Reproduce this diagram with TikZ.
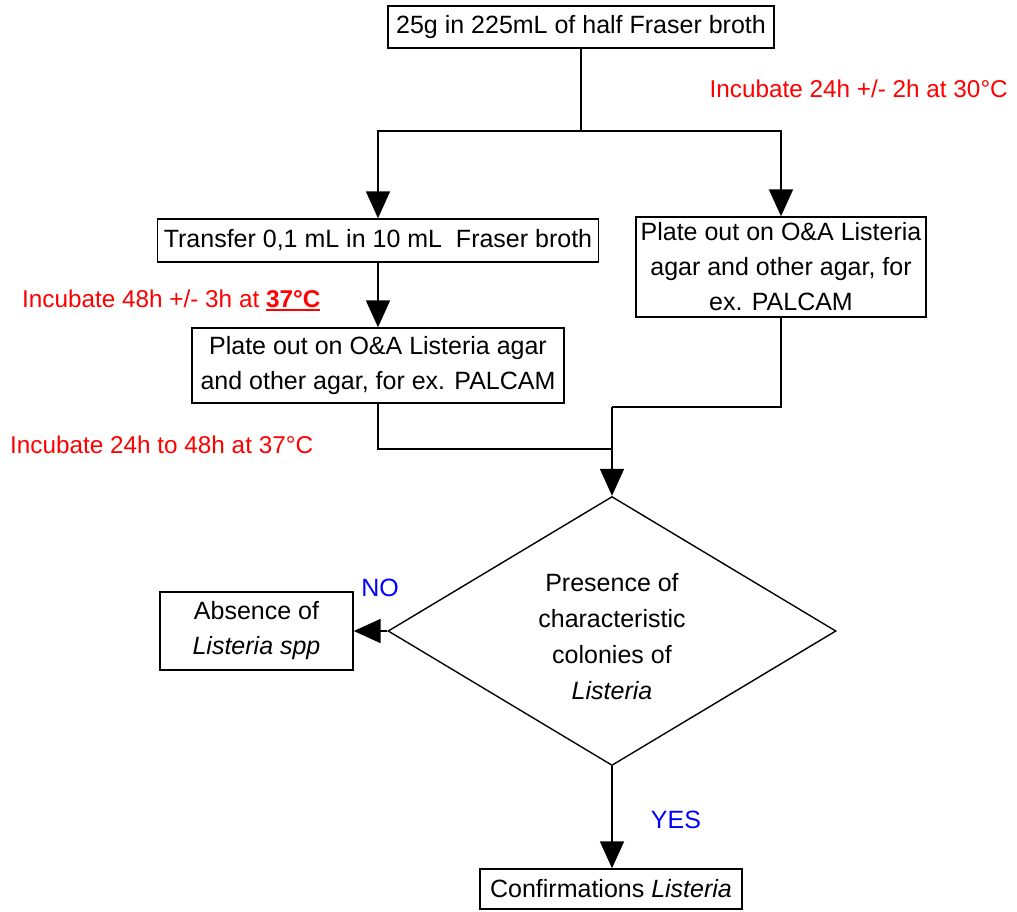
\documentclass[tikz,border=0pt]{standalone}
\usepackage{fontspec}
\setmainfont{Liberation Sans}
\usetikzlibrary{arrows.meta,shapes.geometric}
\definecolor{lblred}{RGB}{255,0,0}
\definecolor{lblblue}{RGB}{0,0,255}
\newcommand\myredul[1]{\setbox0\hbox{#1}\rlap{\color{lblred}\rule[-3.5pt]{\wd0}{1.8pt}}\box0}
\begin{document}
\begin{tikzpicture}[x=1pt,y=-1pt,
  every node/.style={font=\fontsize{25}{35}\selectfont},
  box/.style={draw,line width=1.4pt,inner sep=0pt,align=center},
  arr/.style={line width=1.8pt,-{Triangle[length=27pt,width=24pt]}},
  ln/.style={line width=1.8pt},
  redlbl/.style={text=lblred,inner sep=0pt,font=\fontsize{24.3}{30}\selectfont},
  bluelbl/.style={text=lblblue,inner sep=0pt}]
\useasboundingbox (0,0) rectangle (1017,911);
\node[box,minimum width=386pt,minimum height=42pt] (t) at (581,27) {25g in 225mL of half Fraser broth};
\node[box,minimum width=441pt,minimum height=43pt] (b1) at (378,240.5) {Transfer 0,1 mL in 10 mL\ \ Fraser broth};
\node[box,minimum width=290pt,minimum height=100pt] (r1) at (781,267) {Plate out on O\&A Listeria\\agar and other agar, for\\ex. PALCAM};
\node[box,minimum width=372pt,minimum height=75pt] (b2) at (378,365.5) {Plate out on O\&A Listeria agar\\and other agar, for ex. PALCAM};
\node[diamond,draw,line width=1.4pt,inner sep=0pt,aspect=1.665,minimum width=448pt,minimum height=269pt] (d) at (612,631) {};
\node[align=center,inner sep=0pt,font=\fontsize{25}{36}\selectfont] (dt) at (612,637) {Presence of\\characteristic\\colonies of\\\textit{Listeria}};
\node[box,minimum width=193pt,minimum height=78pt] (a) at (256.5,631) {Absence of\\\textit{Listeria spp}};
\node[box,minimum width=262pt,minimum height=40pt] (c) at (611,889) {Confirmations \textit{Listeria}};
\coordinate (split) at (581,131);
\coordinate (jl) at (612,449);
\coordinate (jr) at (612,407);
\draw[ln] (t.south) -- (split);
\draw[arr] (split) -| (b1.north);
\draw[arr] (split) -| (r1.north);
\draw[arr] (b1) -- (b2);
\draw[ln] (b2.south) |- (jl);
\draw[ln] (r1.south) |- (jr);
\draw[arr] (jr) -- (d.north);
\draw[arr] (d.west) -- (a.east);
\draw[arr] (d.south) -- (c.north -| d.south);
\node[redlbl,anchor=east] (l1) at (1008,89) {Incubate 24h +/- 2h at 30°C};
\node[redlbl,anchor=west] (l2) at (22,300) {Incubate 48h +/- 3h at \myredul{\textbf{37°C}}};
\node[redlbl,anchor=west] (l3) at (10,445) {Incubate 24h to 48h at 37°C};
\node[bluelbl] (no) at (380,588) {NO};
\node[bluelbl] (yes) at (676,820) {YES};
\end{tikzpicture}
\end{document}
